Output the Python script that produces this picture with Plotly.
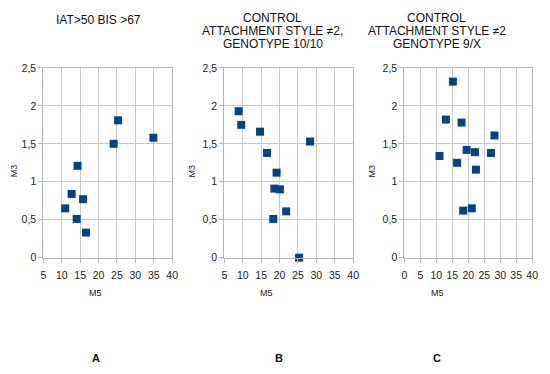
import plotly.graph_objects as go
from plotly.subplots import make_subplots

# Panel A: IAT>50 BIS >67
a_m5 = [25.3, 24.1, 34.9, 14.3, 12.7, 15.8, 10.95, 14.06, 16.6]
a_m3 = [1.81, 1.50, 1.58, 1.21, 0.84, 0.77, 0.65, 0.51, 0.33]

# Panel B: control, attachment style !=2, genotype 10/10
b_m5 = [8.9, 9.6, 14.7, 16.6, 28.3, 19.2, 18.6, 20.1, 21.8, 18.3, 25.3]
b_m3 = [1.93, 1.75, 1.66, 1.38, 1.53, 1.12, 0.91, 0.90, 0.61, 0.51, 0.0]

# Panel C: control, attachment style !=2, genotype 9/X
c_m5 = [15.2, 13.0, 17.9, 28.2, 11.0, 19.5, 22.1, 27.1, 16.5, 22.4, 18.4, 21.1]
c_m3 = [2.32, 1.82, 1.78, 1.61, 1.34, 1.42, 1.39, 1.38, 1.25, 1.16, 0.62, 0.65]

titles = [["IAT>50 BIS >67"],
          ["CONTROL", "ATTACHMENT STYLE ≠2,", "GENOTYPE 10/10"],
          ["CONTROL", "ATTACHMENT STYLE ≠2", "GENOTYPE 9/X"]]
letters = ["A", "B", "C"]
x_ranges = [[5, 40], [5, 40], [0, 40]]
y_ticks = [0, 0.5, 1, 1.5, 2, 2.5]

fig = make_subplots(rows=1, cols=3)
color = "#004586"
for i, (xs, ys) in enumerate([(a_m5, a_m3), (b_m5, b_m3), (c_m5, c_m3)]):
    fig.add_trace(go.Scatter(x=xs, y=ys, mode="markers",
                             marker=dict(symbol="square", size=8, color=color),
                             showlegend=False, cliponaxis=False, hoverinfo="skip"),
                  row=1, col=i + 1)

W, H = 550, 374
domains = [[41/W, 172/W], [225/W, 356/W], [408/W, 538/W]]
ydom = [(H-260)/H, (H-64)/H]
font = "Liberation Sans, Arial, sans-serif"
axis_common = dict(showgrid=True, gridcolor="#c8c8c8", gridwidth=1,
                   showline=True, linecolor="#b4b4b4", linewidth=1, mirror=True,
                   ticks="outside", ticklen=4, tickcolor="#b4b4b4",
                   zeroline=False, tickfont=dict(family=font, size=10.5, color="#222"))
for i in range(3):
    xa = "xaxis" if i == 0 else f"xaxis{i+1}"
    ya = "yaxis" if i == 0 else f"yaxis{i+1}"
    fig.layout[xa].update(domain=domains[i], range=x_ranges[i], dtick=5, tick0=0,
                          ticklabelstandoff=4, **axis_common)
    fig.layout[ya].update(domain=ydom, range=[0, 2.5], tickvals=y_ticks, **axis_common)

ann = []
title_x = [97, 274, 441]
line_y = {1: [14], 3: [12.3, 25.8, 39.3]}
m5_x = [94, 268, 442]
m3_x = [11, 192, 375]
for i in range(3):
    ys_ = line_y[len(titles[i])]
    for line, ly in zip(titles[i], ys_):
        ann.append(dict(text=line, x=title_x[i]/W, y=1 - ly/H, xref="paper", yref="paper",
                        xanchor="center", yanchor="middle", showarrow=False,
                        font=dict(family=font, size=12, color="#111")))
    ann.append(dict(text="M5", x=m5_x[i]/W, y=1 - 297/H, xref="paper", yref="paper",
                    xanchor="center", yanchor="middle", showarrow=False,
                    font=dict(family=font, size=9, color="#222")))
    ann.append(dict(text="M3", x=m3_x[i]/W, y=1 - 170/H,
                    xref="paper", yref="paper", xanchor="center", yanchor="middle",
                    textangle=-90, showarrow=False,
                    font=dict(family=font, size=9, color="#222")))
letter_x = [95, 281, 441]
for i in range(3):
    ann.append(dict(text="<b>" + letters[i] + "</b>", x=letter_x[i]/W, y=1 - 364/H,
                    xref="paper", yref="paper", xanchor="center", yanchor="middle",
                    showarrow=False, font=dict(family=font, size=11, color="#111")))

fig.update_layout(width=W, height=H, margin=dict(l=0, r=0, t=0, b=0),
                  paper_bgcolor="white", plot_bgcolor="white",
                  separators=",.", annotations=ann, hovermode=False)
fig.write_html("out.html", config={"displayModeBar": False},
               post_script="document.body.style.margin='0';document.body.style.overflow='hidden';")
